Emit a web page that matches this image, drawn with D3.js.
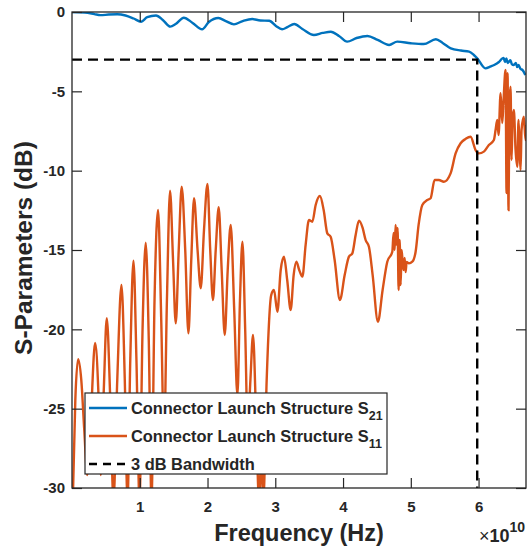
<!DOCTYPE html>
<html>
<head>
<meta charset="utf-8">
<script src="https://cdn.jsdelivr.net/npm/d3@7"></script>
<style>
  body { margin: 0; background: #fff; }
  svg text { font-family: "Liberation Sans", Arial, sans-serif; font-weight: bold; fill: #262626; }
</style>
</head>
<body>
<svg id="chart" width="527" height="550"></svg>
<script>
// frequencies in GHz, magnitudes in dB
const s21Freq = [0, 1.9, 3.3, 4.2, 5.4, 6.7, 7.9, 9.1, 10.2, 11.1, 12.4, 13.4, 14.5, 15.3, 16.5, 17.8, 19.2, 20.2, 21.6, 22.7,
  23.9, 25.2, 26.6, 27.8, 29.1, 30.1, 31.0, 31.8, 32.8, 34.0, 35.7, 37.0, 38.2, 39.4, 40.6, 42.0, 43.6, 45.1, 46.8, 48.0,
  50.0, 51.9, 53.7, 54.7, 55.9, 57.4, 58.6, 59.3, 59.8, 61.0, 61.8, 62.3, 63.0, 63.5, 63.7, 63.9, 64.1, 64.3, 64.5, 64.7,
  64.9, 65.2, 65.5, 65.7, 65.9, 66.2, 66.5, 66.9];
const s21Db = [0, -0.03, -0.13, -0.2, -0.16, -0.14, -0.22, -0.41, -0.61, -0.33, -0.22, -0.5, -0.92, -0.76, -0.36, -0.69, -1.09, -0.63, -0.38, -0.57,
  -0.78, -0.57, -0.44, -0.54, -0.55, -0.88, -1.09, -0.95, -0.76, -1.07, -1.45, -1.32, -1.24, -1.51, -1.87, -1.64, -1.51, -1.76, -2.08, -1.87,
  -1.97, -2.02, -1.72, -1.95, -2.29, -2.43, -2.5, -2.71, -2.92, -3.55, -3.43, -3.34, -3.15, -2.93, -2.9, -3.15, -2.93, -3.21, -3.13, -3.03,
  -3.28, -3.34, -3.21, -3.47, -3.34, -3.59, -3.66, -3.97];

const s11Freq = [0.12, 0.49, 0.9, 1.37, 1.81, 2.26, 2.77, 3.41, 3.88, 4.25, 4.69, 5.13, 5.65, 6.12, 6.68, 7.3, 7.79, 8.19, 8.6, 9.07,
  9.51, 9.96, 10.41, 10.88, 11.33, 11.73, 12.18, 12.7, 13.17, 13.58, 14.01, 14.47, 14.91, 15.31, 15.75, 16.19, 16.71, 17.18, 17.6, 18.01,
  18.53, 19.0, 19.48, 19.99, 20.4, 20.8, 21.21, 21.65, 22.09, 22.54, 22.98, 23.42, 23.94, 24.41, 24.79, 25.15, 25.56, 25.93, 26.33, 26.71,
  27.18, 27.6, 27.92, 28.24, 28.73, 29.4, 29.81, 30.31, 30.8, 31.28, 31.76, 32.27, 32.71, 33.11, 33.53, 34.0, 34.48, 34.97, 35.47, 35.96,
  36.59, 37.14, 37.68, 38.17, 38.76, 39.54, 40.24, 40.87, 41.37, 41.86, 42.35, 42.89, 43.33, 43.82, 44.37, 45.15, 45.84, 46.53, 47.27, 47.46,
  47.61, 47.76, 47.91, 48.05, 48.2, 48.35, 48.5, 48.64, 48.79, 48.94, 49.09, 49.23, 49.38, 49.72, 50.22, 50.71, 51.15, 51.7, 52.43, 52.92,
  53.51, 54.14, 54.88, 55.87, 56.61, 57.35, 58.08, 58.82, 59.56, 60.04, 60.78, 61.52, 62.26, 62.51, 62.76, 62.95, 63.25, 63.5, 63.69, 63.98,
  64.13, 64.28, 64.42, 64.57, 64.72, 64.87, 65.01, 65.21, 65.46, 65.71, 65.9, 66.05, 66.2, 66.34, 66.68, 66.93, 67.08];
const s11Db = [-30.75, -24.45, -21.89, -23.19, -26.34, -29.18, -25.71, -20.86, -23.82, -29.18, -23.82, -19.3, -24.45, -30.76, -23.19, -17.2, -23.19, -30.76, -21.93, -15.67,
  -21.93, -30.76, -20.04, -14.54, -20.67, -30.76, -18.15, -12.48, -19.41, -26.97, -18.15, -11.26, -15.63, -19.62, -15.0, -11.01, -15.0, -20.25, -15.63, -11.74,
  -15.0, -17.41, -13.74, -10.84, -15.0, -18.15, -15.0, -12.31, -16.26, -20.36, -16.26, -13.42, -18.78, -24.14, -18.15, -14.48, -20.04, -26.34, -23.19, -20.36,
  -25.71, -30.76, -28.24, -30.76, -23.19, -17.84, -17.52, -18.89, -16.26, -15.42, -16.89, -18.78, -16.58, -15.74, -16.26, -16.68, -14.68, -13.11, -13.22, -12.16,
  -11.6, -12.48, -13.95, -14.16, -15.63, -18.15, -16.58, -15.42, -15.21, -14.05, -13.15, -13.61, -14.37, -14.79, -16.58, -19.52, -17.52, -15.74, -15.11, -13.93,
  -15.0, -13.42, -14.68, -13.61, -17.52, -14.37, -17.21, -15.0, -15.76, -16.26, -15.5, -16.39, -15.76, -15.84, -15.74, -15.11, -13.42, -12.16, -11.85, -11.74,
  -10.59, -10.59, -10.7, -10.17, -8.91, -8.27, -8.0, -7.86, -8.7, -8.91, -8.8, -8.38, -8.07, -7.44, -6.81, -7.75, -5.12, -7.0, -5.55, -3.66,
  -11.41, -3.86, -12.48, -5.55, -4.71, -9.33, -6.81, -6.18, -8.7, -9.75, -6.81, -8.7, -9.96, -7.44, -6.6, -8.07, -7.12];

const bwFreq = 59.8;   // GHz
const bwLevel = -3;    // dB
const xTicks = [1, 2, 3, 4, 5, 6];          // x 1e10 Hz
const yTicks = [0, -5, -10, -15, -20, -25, -30];
const legendLabels = [
  { text: "Connector Launch Structure S", sub: "21" },
  { text: "Connector Launch Structure S", sub: "11" },
  { text: "3 dB Bandwidth", sub: "" }
];

const colors = { s21: "#0072BD", s11: "#D95319", axis: "#262626" };

const margin = { top: 12, right: 1, bottom: 62, left: 72 };
const W = 527, H = 550;
const width = W - margin.left - margin.right;
const height = H - margin.top - margin.bottom;

const svg = d3.select("#chart");
const g = svg.append("g").attr("transform", `translate(${margin.left},${margin.top})`);

const x = d3.scaleLinear().domain([0, 6.7e10]).range([0, width]);
const y = d3.scaleLinear().domain([-30, 0]).range([height, 0]);

svg.append("defs").append("clipPath").attr("id", "plot-clip")
  .append("rect").attr("width", width).attr("height", height);

const toPts = (fs, ds) => fs.map((f, i) => [f * 1e9, ds[i]]);

const line = d3.line()
  .x(d => x(d[0]))
  .y(d => y(d[1]))
  .curve(d3.curveMonotoneX);

const plot = g.append("g").attr("clip-path", "url(#plot-clip)");

plot.append("path")
  .datum(toPts(s21Freq, s21Db))
  .attr("d", line)
  .attr("fill", "none")
  .attr("stroke", colors.s21)
  .attr("stroke-width", 2.4);

plot.append("path")
  .datum(toPts(s11Freq, s11Db))
  .attr("d", line)
  .attr("fill", "none")
  .attr("stroke", colors.s11)
  .attr("stroke-width", 2.4);

// 3 dB bandwidth markers
plot.append("path")
  .attr("d", d3.line()([[x(0), y(bwLevel)], [x(bwFreq * 1e9), y(bwLevel)], [x(bwFreq * 1e9), y(-30)]]))
  .attr("fill", "none")
  .attr("stroke", "#000")
  .attr("stroke-width", 2.4)
  .attr("stroke-dasharray", "10,6");

// axes, ticks pointing inward on all four sides
const styleAxis = sel => {
  sel.select(".domain").remove();
  sel.selectAll(".tick line").attr("stroke", colors.axis).attr("stroke-width", 1.2);
  sel.selectAll("text").style("font-size", "15px").attr("fill", colors.axis);
};

g.append("g").attr("transform", `translate(0,${height})`)
  .call(d3.axisBottom(x).tickValues(xTicks.map(t => t * 1e10)).tickFormat(d => d / 1e10)
    .tickSizeInner(-10).tickSizeOuter(0).tickPadding(13))
  .call(styleAxis);
g.append("g")
  .call(d3.axisTop(x).tickValues(xTicks.map(t => t * 1e10)).tickFormat("")
    .tickSizeInner(-10).tickSizeOuter(0))
  .call(styleAxis);
g.append("g")
  .call(d3.axisLeft(y).tickValues(yTicks).tickFormat(d => d === 0 ? "0" : "-" + Math.abs(d))
    .tickSizeInner(-10).tickSizeOuter(0).tickPadding(7))
  .call(styleAxis);
g.append("g").attr("transform", `translate(${width},0)`)
  .call(d3.axisRight(y).tickValues(yTicks).tickFormat("")
    .tickSizeInner(-10).tickSizeOuter(0))
  .call(styleAxis);

g.append("rect")
  .attr("width", width).attr("height", height)
  .attr("fill", "none").attr("stroke", colors.axis).attr("stroke-width", 1.3);

// axis labels
g.append("text")
  .attr("x", width / 2).attr("y", height + 53)
  .attr("text-anchor", "middle")
  .style("font-size", "23.5px")
  .text("Frequency (Hz)");

g.append("text")
  .attr("transform", `translate(-40,${height / 2 - 2}) rotate(-90)`)
  .attr("text-anchor", "middle")
  .style("font-size", "24.5px")
  .text("S-Parameters (dB)");

const expLabel = g.append("text")
  .attr("x", width - 1).attr("y", height + 54)
  .attr("text-anchor", "end")
  .style("font-size", "18px");
expLabel.append("tspan").style("font-weight", "normal").text("\u00d7");
expLabel.append("tspan").text("10");
expLabel.append("tspan").attr("dy", -10).style("font-size", "14px").text("10");

// legend
const legend = g.append("g").attr("transform", `translate(${85 - margin.left},${393 - margin.top})`);
legend.append("rect")
  .attr("width", 302).attr("height", 81)
  .attr("fill", "#fff").attr("stroke", colors.axis).attr("stroke-width", 1.2);

const legendStyles = [
  { stroke: colors.s21, dash: null },
  { stroke: colors.s11, dash: null },
  { stroke: "#000", dash: "8,6" }
];

legendLabels.forEach((d, i) => {
  const row = legend.append("g").attr("transform", `translate(0,${15 + i * 28})`);
  row.append("line")
    .attr("x1", 4).attr("x2", 42).attr("y1", 0).attr("y2", 0)
    .attr("stroke", legendStyles[i].stroke)
    .attr("stroke-width", 2.4)
    .attr("stroke-dasharray", legendStyles[i].dash);
  const t = row.append("text").attr("x", 46).attr("y", 6).style("font-size", "16.4px");
  t.append("tspan").text(d.text);
  if (d.sub) t.append("tspan").attr("dy", 6).style("font-size", "12.5px").text(d.sub);
});
</script>
</body>
</html>
